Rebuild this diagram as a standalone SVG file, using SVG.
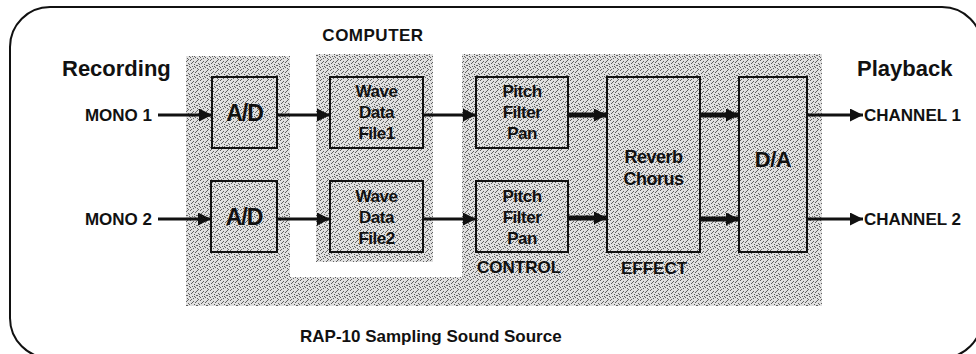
<svg xmlns="http://www.w3.org/2000/svg" width="976" height="354" viewBox="0 0 976 354">
<style>
.t{font-family:"Liberation Sans",Arial,sans-serif;font-weight:bold;fill:#111}
.lbl{font-size:17px}
.big{font-size:22px}
.box{stroke:#111;stroke-width:2;fill:url(#stip)}
.bt{font-size:17px;text-anchor:middle;letter-spacing:-0.5px}
.c{stroke:#111;stroke-width:3;fill:none;marker-end:url(#ah)}
.c.th{stroke-width:5}
</style>
<defs>
<pattern id="stip" width="10" height="10" patternUnits="userSpaceOnUse">
<rect width="10" height="10" fill="#e0e0e0"/>
<g fill="#606060">
<rect x="0" y="0" width="1" height="1"/><rect x="3" y="1" width="1" height="1"/><rect x="7" y="0" width="1" height="1"/>
<rect x="5" y="2" width="1" height="1"/><rect x="1" y="3" width="1" height="1"/><rect x="8" y="3" width="1" height="1"/>
<rect x="4" y="4" width="1" height="1"/><rect x="6" y="5" width="1" height="1"/><rect x="2" y="6" width="1" height="1"/>
<rect x="9" y="6" width="1" height="1"/><rect x="0" y="7" width="1" height="1"/><rect x="5" y="7" width="1" height="1"/>
<rect x="3" y="8" width="1" height="1"/><rect x="7" y="8" width="1" height="1"/><rect x="1" y="9" width="1" height="1"/>
<rect x="8" y="9" width="1" height="1"/><rect x="6" y="1" width="1" height="1"/><rect x="2" y="2" width="1" height="1"/>
<rect x="9" y="4" width="1" height="1"/><rect x="4" y="6" width="1" height="1"/><rect x="7" y="5" width="1" height="1"/>
</g>
</pattern>
<marker id="ah" markerUnits="userSpaceOnUse" markerWidth="13" markerHeight="13" refX="13" refY="6.5" orient="auto">
<path d="M0,0 L13,6.5 L0,13 Z" fill="#111"/>
</marker>
</defs>
<rect width="976" height="354" fill="#fff"/>
<path d="M50,7 H942 A40,40 0 0 1 982,47 V318 A40,40 0 0 1 942,358 H50 A40,40 0 0 1 10,318 V47 A40,40 0 0 1 50,7 Z" fill="none" stroke="#111" stroke-width="2"/>
<g id="shading" fill="url(#stip)">
<rect x="186" y="56" width="104" height="250"/>
<rect x="186" y="277" width="636" height="29"/>
<rect x="316" y="54" width="117" height="208"/>
<rect x="462" y="54" width="360" height="252"/>
</g>
<text class="t big" x="62" y="76">Recording</text>
<text class="t big" x="857" y="76">Playback</text>
<text class="t lbl" x="373" y="41" text-anchor="middle" letter-spacing="0.5">COMPUTER</text>
<text class="t lbl" x="519" y="273" text-anchor="middle">CONTROL</text>
<text class="t lbl" x="654" y="274" text-anchor="middle">EFFECT</text>
<text class="t lbl" x="300" y="342">RAP-10 Sampling Sound Source</text>
<g id="mono1"><text class="t lbl" x="152" y="121" text-anchor="end">MONO 1</text></g>
<g id="mono2"><text class="t lbl" x="152" y="225" text-anchor="end">MONO 2</text></g>
<g id="ch1"><text class="t lbl" x="864" y="121">CHANNEL 1</text></g>
<g id="ch2"><text class="t lbl" x="864" y="225">CHANNEL 2</text></g>
<g id="ad1"><rect class="box" x="212" y="77" width="65" height="71"/><text class="t" x="244.5" y="121" font-size="23" text-anchor="middle" letter-spacing="-1">A/D</text></g>
<g id="ad2"><rect class="box" x="211" y="181" width="66" height="71"/><text class="t" x="244" y="225" font-size="23" text-anchor="middle" letter-spacing="-1">A/D</text></g>
<g id="wave1"><rect class="box" x="330" y="77" width="93" height="71"/><text class="t bt"><tspan x="376.5" y="97">Wave</tspan><tspan x="376.5" y="118">Data</tspan><tspan x="376.5" y="139">File1</tspan></text></g>
<g id="wave2"><rect class="box" x="330" y="181" width="93" height="71"/><text class="t bt"><tspan x="376.5" y="202">Wave</tspan><tspan x="376.5" y="223">Data</tspan><tspan x="376.5" y="244">File2</tspan></text></g>
<g id="pitch1"><rect class="box" x="476" y="77" width="92" height="71"/><text class="t bt"><tspan x="522" y="97">Pitch</tspan><tspan x="522" y="118">Filter</tspan><tspan x="522" y="139">Pan</tspan></text></g>
<g id="pitch2"><rect class="box" x="476" y="181" width="92" height="71"/><text class="t bt"><tspan x="522" y="202">Pitch</tspan><tspan x="522" y="223">Filter</tspan><tspan x="522" y="244">Pan</tspan></text></g>
<g id="effect"><rect class="box" x="607" y="77" width="93" height="175"/><text class="t bt" style="font-size:18px"><tspan x="653.5" y="163">Reverb</tspan><tspan x="653.5" y="185">Chorus</tspan></text></g>
<g id="da"><rect class="box" x="739" y="77" width="68" height="175"/><text class="t" x="773" y="167" font-size="22" text-anchor="middle" letter-spacing="-0.5">D/A</text></g>
<g id="connectors">
<line class="c" x1="158" y1="115" x2="212" y2="115"/>
<line class="c" x1="158" y1="219" x2="211" y2="219"/>
<line class="c" x1="277" y1="115" x2="330" y2="115"/>
<line class="c" x1="277" y1="219" x2="330" y2="219"/>
<line class="c" x1="423" y1="115" x2="476" y2="115"/>
<line class="c" x1="423" y1="219" x2="476" y2="219"/>
<line class="c th" x1="568" y1="115" x2="607" y2="115"/>
<line class="c th" x1="568" y1="218" x2="607" y2="218"/>
<line class="c th" x1="700" y1="115" x2="739" y2="115"/>
<line class="c th" x1="700" y1="219" x2="739" y2="219"/>
<line class="c" x1="807" y1="115" x2="863" y2="115"/>
<line class="c" x1="807" y1="219" x2="863" y2="219"/>
</g>
</svg>
